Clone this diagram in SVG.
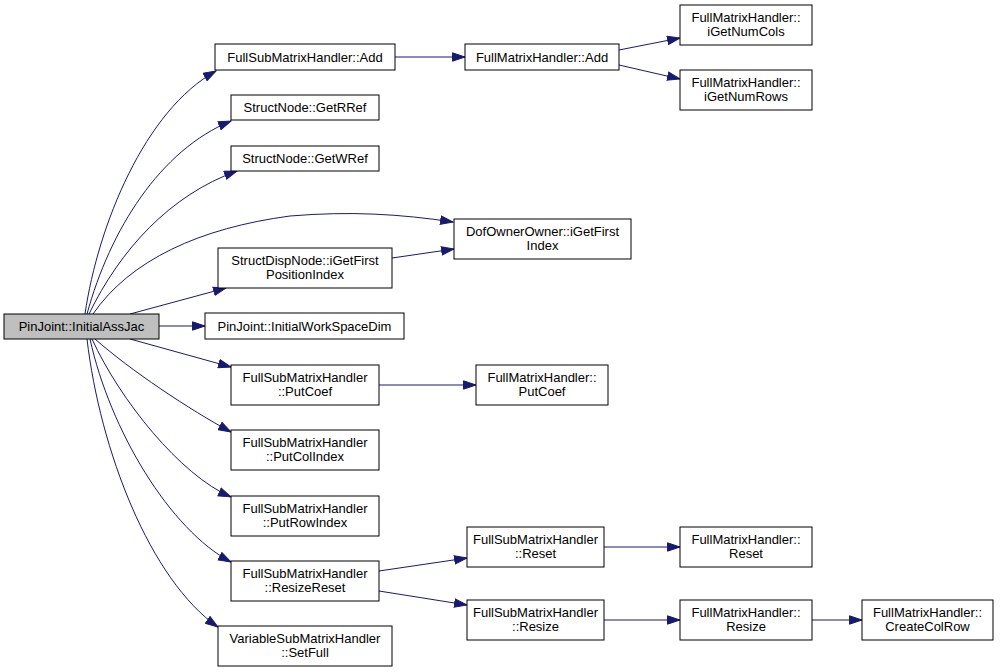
<svg xmlns="http://www.w3.org/2000/svg" width="1000" height="672" viewBox="0 0 1000 672">
<defs>
<style>
.n rect{fill:#fff;stroke:#000;stroke-width:1}
.n.root rect{fill:#bfbfbf}
.n text{font-family:"Liberation Sans",Arial,sans-serif;font-size:13px;text-anchor:middle;fill:#000}
.e path{fill:none;stroke:#191970;stroke-width:1;marker-end:url(#arr)}
</style>
<marker id="arr" markerUnits="userSpaceOnUse" markerWidth="14" markerHeight="10" refX="13" refY="5" orient="auto" viewBox="0 0 14 10">
<path d="M0.5,0.8 L13,5 L0.5,9.2 z" fill="#191970" stroke="#191970"/>
</marker>
</defs>
<rect width="1000" height="672" fill="#fff"/>
<g id="edges" class="e">
<path d="M85,314 C98,225 145,110 216,71"/>
<path d="M87,314 C110,230 160,150 231,121"/>
<path d="M89,314 C120,250 170,195 237,171"/>
<path d="M93,314 C130,260 200,228 290,216 C350,211 400,214 453,222"/>
<path d="M130,314 L226,288"/>
<path d="M159,326 L205,326"/>
<path d="M130,339 L231,367"/>
<path d="M95,339 C130,370 190,410 231,432"/>
<path d="M92,339 C120,400 180,475 231,497"/>
<path d="M90,339 C110,430 170,530 231,562"/>
<path d="M87,339 C100,450 150,580 218,627"/>
<path d="M395,57 L465,57"/>
<path d="M619,50 L680,38"/>
<path d="M619,65 L680,79"/>
<path d="M392,258 L454,249"/>
<path d="M379,385 L476,385"/>
<path d="M379,571 L467,558"/>
<path d="M379,591 L467,605"/>
<path d="M604,547 L680,547"/>
<path d="M604,620 L680,620"/>
<path d="M812,620 L862,620"/>
</g>
<g id="n_root" class="n root"><rect x="4" y="314" width="155" height="25"/><text x="81.5" y="331">PinJoint::InitialAssJac</text></g>
<g id="n_fsm_add" class="n"><rect x="215" y="44" width="180" height="26"/><text x="305" y="62">FullSubMatrixHandler::Add</text></g>
<g id="n_fm_add" class="n"><rect x="465" y="44" width="154" height="26"/><text x="542" y="62">FullMatrixHandler::Add</text></g>
<g id="n_numcols" class="n"><rect x="680" y="5" width="132" height="40"/><text x="746" y="22">FullMatrixHandler::</text><text x="746" y="36">iGetNumCols</text></g>
<g id="n_numrows" class="n"><rect x="680" y="70" width="132" height="40"/><text x="746" y="87">FullMatrixHandler::</text><text x="746" y="101">iGetNumRows</text></g>
<g id="n_getrref" class="n"><rect x="231" y="95" width="148" height="25"/><text x="305" y="112">StructNode::GetRRef</text></g>
<g id="n_getwref" class="n"><rect x="231" y="146" width="148" height="25"/><text x="305" y="163">StructNode::GetWRef</text></g>
<g id="n_dofowner" class="n"><rect x="454" y="219" width="177" height="40"/><text x="542.5" y="236">DofOwnerOwner::iGetFirst</text><text x="542.5" y="250">Index</text></g>
<g id="n_sdn" class="n"><rect x="218" y="248" width="174" height="40"/><text x="305" y="265">StructDispNode::iGetFirst</text><text x="305" y="279">PositionIndex</text></g>
<g id="n_iwsd" class="n"><rect x="205" y="313" width="199" height="26"/><text x="304.5" y="331">PinJoint::InitialWorkSpaceDim</text></g>
<g id="n_fsm_putcoef" class="n"><rect x="231" y="365" width="148" height="40"/><text x="305" y="382">FullSubMatrixHandler</text><text x="305" y="396">::PutCoef</text></g>
<g id="n_fm_putcoef" class="n"><rect x="476" y="365" width="132" height="40"/><text x="542" y="382">FullMatrixHandler::</text><text x="542" y="396">PutCoef</text></g>
<g id="n_putcolindex" class="n"><rect x="231" y="430" width="148" height="40"/><text x="305" y="447">FullSubMatrixHandler</text><text x="305" y="461">::PutColIndex</text></g>
<g id="n_putrowindex" class="n"><rect x="231" y="496" width="148" height="40"/><text x="305" y="513">FullSubMatrixHandler</text><text x="305" y="527">::PutRowIndex</text></g>
<g id="n_resizereset" class="n"><rect x="231" y="561" width="148" height="40"/><text x="305" y="578">FullSubMatrixHandler</text><text x="305" y="592">::ResizeReset</text></g>
<g id="n_setfull" class="n"><rect x="218" y="626" width="174" height="40"/><text x="305" y="643">VariableSubMatrixHandler</text><text x="305" y="657">::SetFull</text></g>
<g id="n_fsm_reset" class="n"><rect x="467" y="527" width="137" height="40"/><text x="535.5" y="544">FullSubMatrixHandler</text><text x="535.5" y="558">::Reset</text></g>
<g id="n_fsm_resize" class="n"><rect x="467" y="600" width="137" height="40"/><text x="535.5" y="617">FullSubMatrixHandler</text><text x="535.5" y="631">::Resize</text></g>
<g id="n_fm_reset" class="n"><rect x="680" y="527" width="132" height="40"/><text x="746" y="544">FullMatrixHandler::</text><text x="746" y="558">Reset</text></g>
<g id="n_fm_resize" class="n"><rect x="680" y="600" width="132" height="40"/><text x="746" y="617">FullMatrixHandler::</text><text x="746" y="631">Resize</text></g>
<g id="n_createcolrow" class="n"><rect x="862" y="600" width="131" height="40"/><text x="927.5" y="617">FullMatrixHandler::</text><text x="927.5" y="631">CreateColRow</text></g>
</svg>
